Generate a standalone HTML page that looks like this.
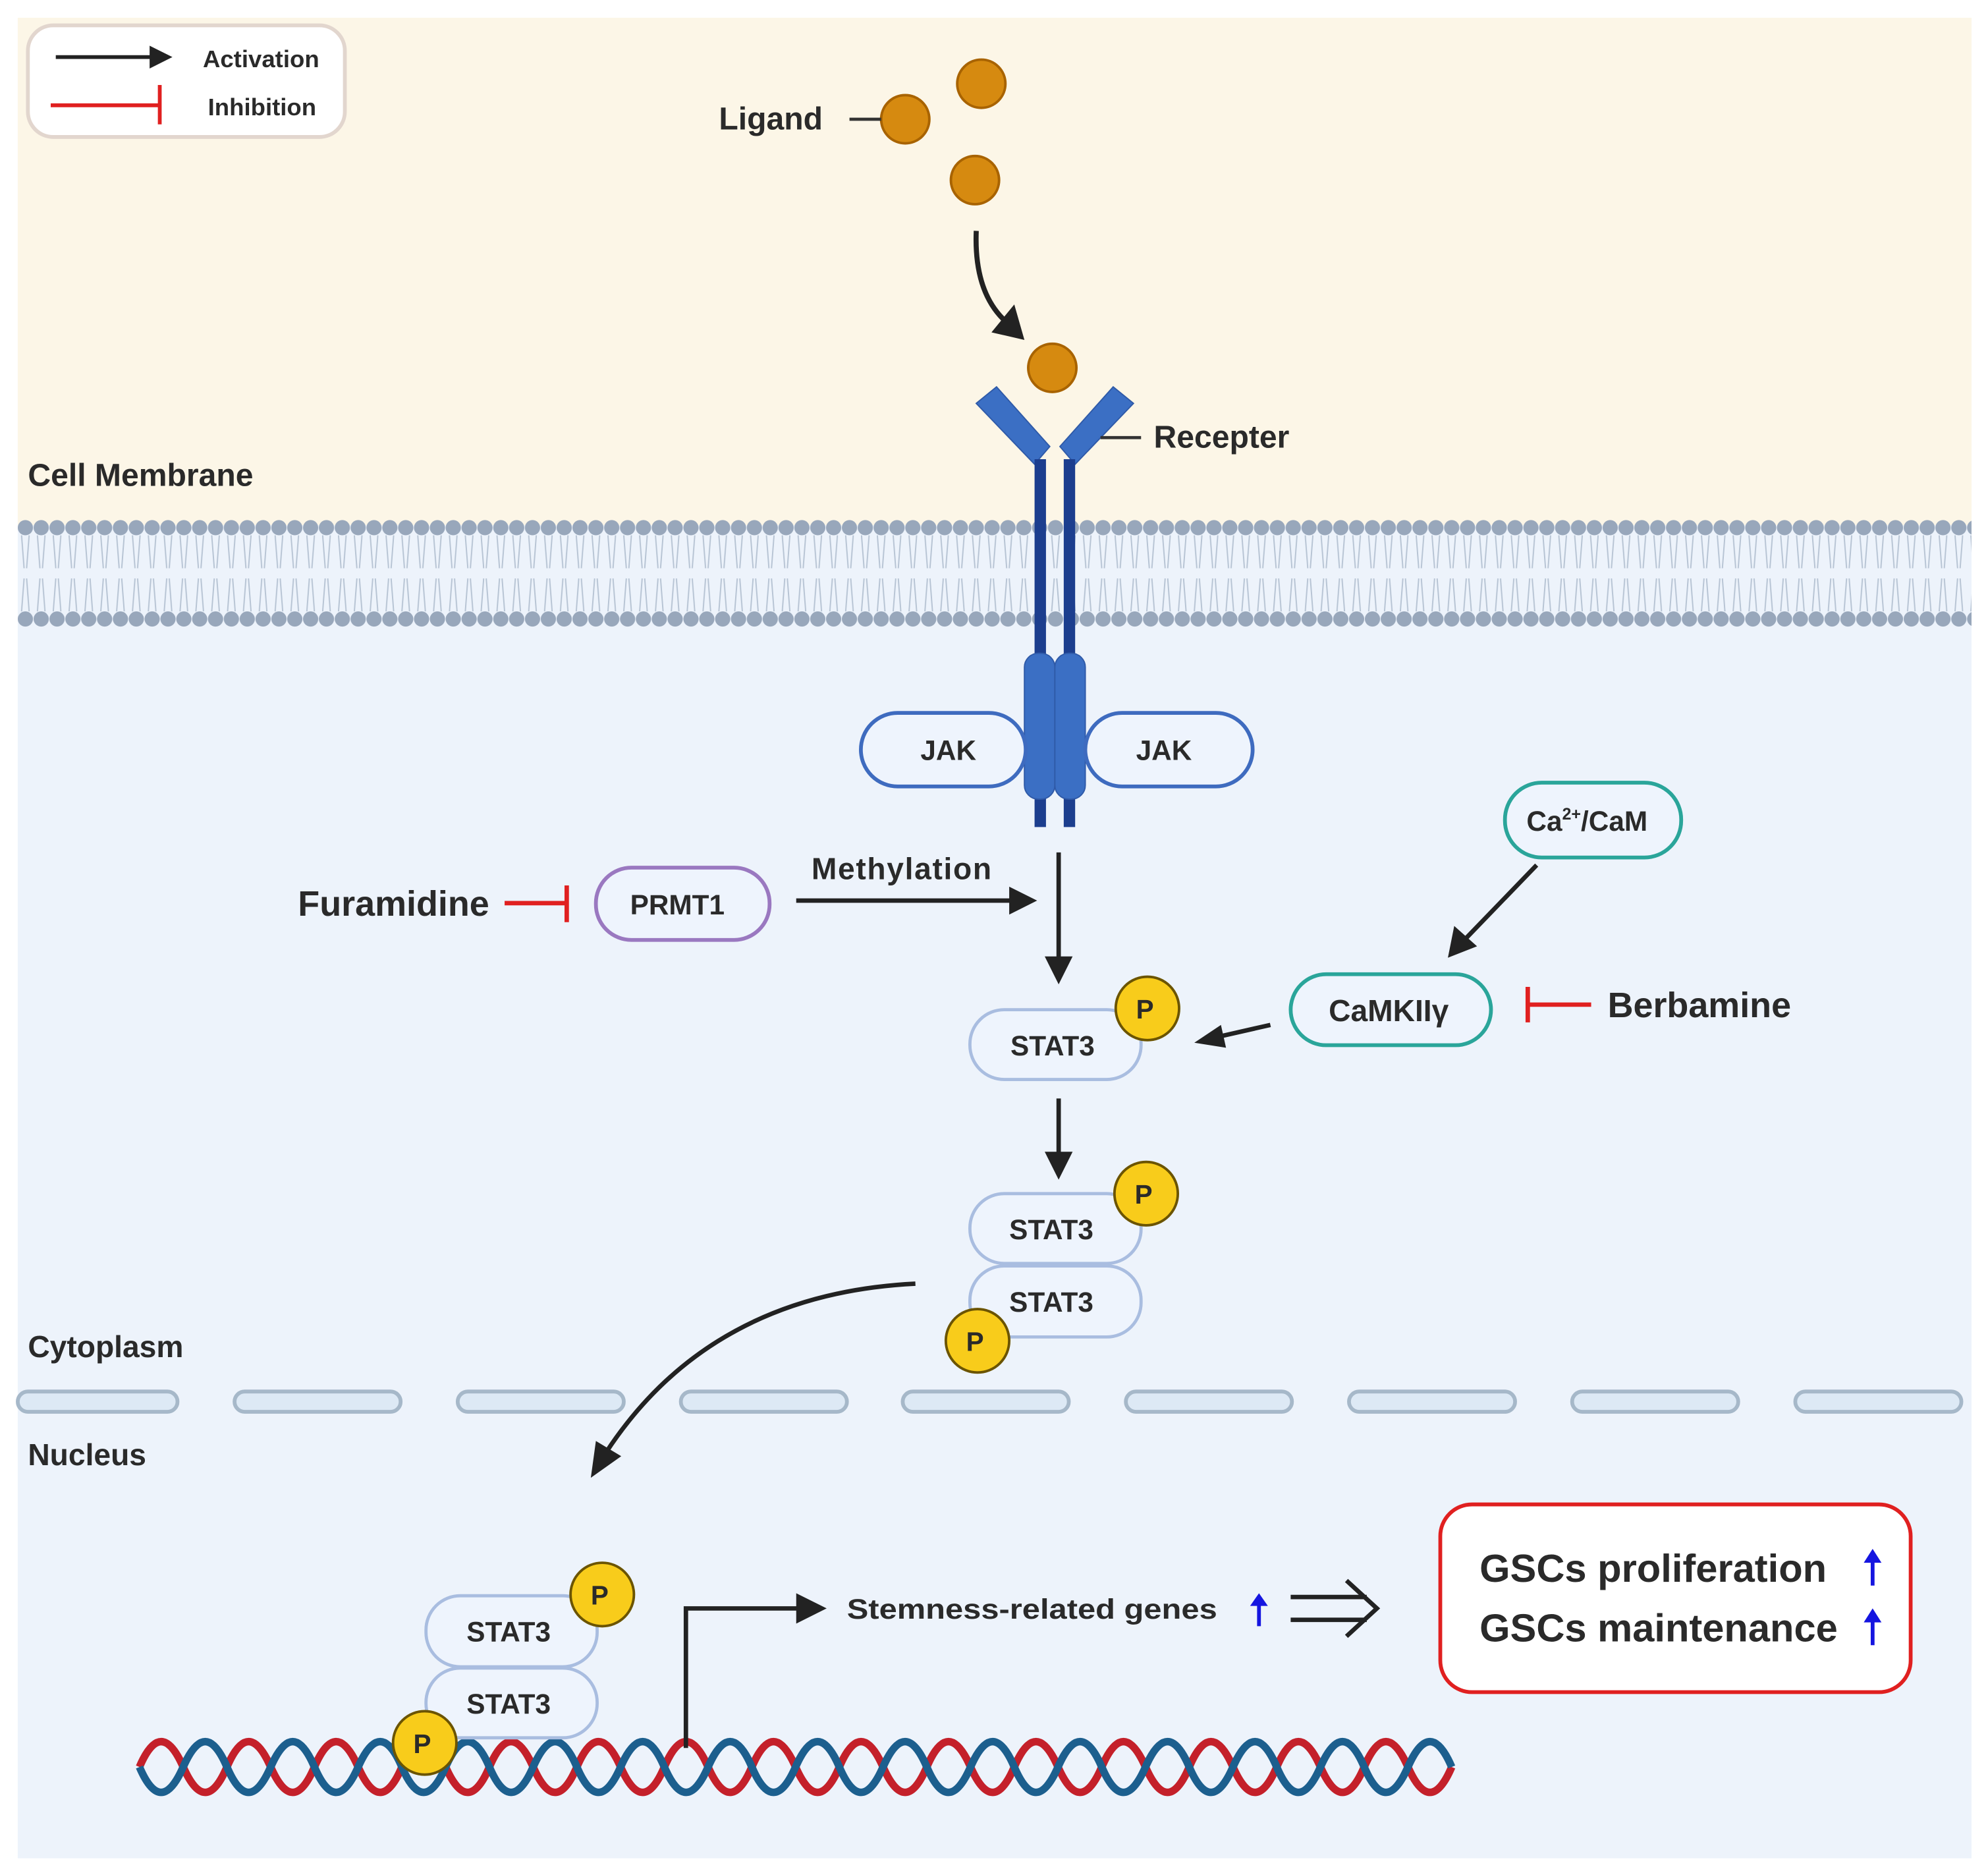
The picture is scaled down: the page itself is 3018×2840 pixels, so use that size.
<!DOCTYPE html>
<html><head><meta charset="utf-8"><style>
html,body{margin:0;padding:0;background:#fff}
svg{display:block}
text{font-family:"Liberation Sans",sans-serif;fill:#2a2a2a;font-weight:bold}
</style></head><body>
<svg width="3018" height="2840" viewBox="0 0 1568 1475" preserveAspectRatio="none" xmlns="http://www.w3.org/2000/svg">
<defs>
<pattern id="heads" x="14" y="0" width="12.5" height="1475" patternUnits="userSpaceOnUse">
<circle cx="6" cy="416" r="6" fill="#98a7bb"/>
<circle cx="6" cy="488" r="6" fill="#98a7bb"/>
<path d="M3 422 L5 448 M9 422 L7 448 M3 482 L5 456 M9 482 L7 456" stroke="#b6c3d3" stroke-width="1" fill="none"/>
</pattern>
</defs>
<rect x="14" y="14" width="1541" height="400" fill="#fcf6e7"/>
<rect x="14" y="414" width="1541" height="1051" fill="#edf3fb"/>
<rect x="14" y="405" width="1541" height="95" fill="url(#heads)"/>
<!-- legend -->
<rect x="22" y="20" width="250" height="88" rx="20" fill="#fff" stroke="#e2d6ce" stroke-width="3"/>
<line x1="44" y1="45" x2="122" y2="45" stroke="#222" stroke-width="3"/>
<polygon points="118,36 136,45 118,54" fill="#222"/>
<line x1="40" y1="83" x2="126" y2="83" stroke="#e02020" stroke-width="3"/>
<line x1="126" y1="67" x2="126" y2="98" stroke="#e02020" stroke-width="3"/>
<text x="160" y="53" font-size="19" font-weight="normal">Activation</text>
<text x="164" y="91" font-size="19" font-weight="normal">Inhibition</text>
<!-- ligands -->
<g fill="#d68a10" stroke="#a86300" stroke-width="2">
<circle cx="774" cy="66" r="19"/><circle cx="714" cy="94" r="19"/><circle cx="769" cy="142" r="19"/><circle cx="830" cy="290" r="19"/>
</g>
<text x="567" y="102" font-size="25">Ligand</text>
<line x1="670" y1="94" x2="695" y2="94" stroke="#333" stroke-width="2.5"/>
<path d="M770 182 Q768 232 795 255" stroke="#222" stroke-width="4" fill="none"/>
<polygon points="782,262 808,268 800,240" fill="#222"/>
<!-- receptor -->
<polygon points="770,318 786,305 828,352 816,366" fill="#3b6fc4" stroke="#2f5aa8" stroke-width="1"/>
<polygon points="894,318 878,305 836,352 848,366" fill="#3b6fc4" stroke="#2f5aa8" stroke-width="1"/>
<rect x="816" y="362" width="9" height="290" fill="#1c3e8e"/>
<rect x="839" y="362" width="9" height="290" fill="#1c3e8e"/>
<rect x="808" y="515" width="24" height="115" rx="11" fill="#3b6fc4" stroke="#2f5aa8"/>
<rect x="832" y="515" width="24" height="115" rx="11" fill="#3b6fc4" stroke="#2f5aa8"/>
<line x1="868" y1="345" x2="900" y2="345" stroke="#333" stroke-width="2.5"/>
<text x="910" y="353" font-size="25">Recepter</text>
<text x="22" y="383" font-size="25">Cell Membrane</text>
<!-- JAK -->
<rect x="679" y="562" width="130" height="58" rx="29" fill="#eef4fd" stroke="#3e6bbf" stroke-width="3"/>
<rect x="856" y="562" width="132" height="58" rx="29" fill="#eef4fd" stroke="#3e6bbf" stroke-width="3"/>
<text x="726" y="599" font-size="22">JAK</text>
<text x="896" y="599" font-size="22">JAK</text>
<!-- Ca/CaM -->
<rect x="1187" y="617" width="139" height="59" rx="29" fill="#eef4fd" stroke="#2aa59a" stroke-width="3"/>
<text x="1204" y="655" font-size="22">Ca<tspan font-size="13" dy="-9">2+</tspan><tspan dy="9">/CaM</tspan></text>
<rect x="1018" y="768" width="158" height="56" rx="28" fill="#eef4fd" stroke="#2aa59a" stroke-width="3"/>
<text x="1048" y="805" font-size="24">CaMKIIγ</text>
<line x1="1212" y1="682" x2="1155" y2="741" stroke="#222" stroke-width="3.5"/>
<polygon points="1142,755 1147,730 1165,746" fill="#222"/>
<line x1="1205" y1="792" x2="1255" y2="792" stroke="#e02020" stroke-width="3.5"/>
<line x1="1205" y1="778" x2="1205" y2="806" stroke="#e02020" stroke-width="3.5"/>
<text x="1268" y="802" font-size="28">Berbamine</text>
<line x1="1002" y1="808" x2="958" y2="818" stroke="#222" stroke-width="3.5"/>
<polygon points="942,822 963,808 967,826" fill="#222"/>
<!-- PRMT1 -->
<rect x="470" y="684" width="137" height="57" rx="28" fill="#eef4fd" stroke="#9a78c0" stroke-width="3"/>
<text x="497" y="721" font-size="22">PRMT1</text>
<text x="235" y="722" font-size="28">Furamidine</text>
<line x1="398" y1="712" x2="447" y2="712" stroke="#e02020" stroke-width="3.5"/>
<line x1="447" y1="698" x2="447" y2="727" stroke="#e02020" stroke-width="3.5"/>
<line x1="628" y1="710" x2="800" y2="710" stroke="#222" stroke-width="3.5"/>
<polygon points="796,699 818,710 796,721" fill="#222"/>
<text x="640" y="693" font-size="24" textLength="142">Methylation</text>
<line x1="835" y1="672" x2="835" y2="758" stroke="#222" stroke-width="3.5"/>
<polygon points="824,754 835,776 846,754" fill="#222"/>
<!-- STAT3 single -->
<rect x="765" y="796" width="135" height="55" rx="27" fill="#eef4fd" stroke="#a9bde0" stroke-width="2.5"/>
<text x="797" y="832" font-size="22">STAT3</text>
<g fill="#f8cc1b" stroke="#6b5400" stroke-width="2">
<circle cx="905" cy="795" r="25"/></g>
<text x="896" y="803" font-size="21" font-weight="normal">P</text>
<line x1="835" y1="866" x2="835" y2="912" stroke="#222" stroke-width="3.5"/>
<polygon points="824,908 835,930 846,908" fill="#222"/>
<!-- dimer -->
<rect x="765" y="941" width="135" height="55" rx="27" fill="#eef4fd" stroke="#a9bde0" stroke-width="2.5"/>
<rect x="765" y="998" width="135" height="56" rx="27" fill="#eef4fd" stroke="#a9bde0" stroke-width="2.5"/>
<text x="796" y="977" font-size="22">STAT3</text>
<text x="796" y="1034" font-size="22">STAT3</text>
<g fill="#f8cc1b" stroke="#6b5400" stroke-width="2">
<circle cx="904" cy="941" r="25"/><circle cx="771" cy="1057" r="25"/></g>
<text x="895" y="949" font-size="21" font-weight="normal">P</text>
<text x="762" y="1065" font-size="21" font-weight="normal">P</text>
<path d="M722 1012 Q560 1020 478 1145" stroke="#222" stroke-width="3.5" fill="none"/>
<polygon points="466,1165 470,1136 490,1148" fill="#222"/>
<text x="22" y="1070" font-size="24">Cytoplasm</text>
<!-- nuclear membrane -->
<g fill="#dde9f5" stroke="#a6b8c9" stroke-width="3">
<rect x="14" y="1097" width="126" height="16" rx="8"/>
<rect x="185" y="1097" width="131" height="16" rx="8"/>
<rect x="361" y="1097" width="131" height="16" rx="8"/>
<rect x="537" y="1097" width="131" height="16" rx="8"/>
<rect x="712" y="1097" width="131" height="16" rx="8"/>
<rect x="888" y="1097" width="131" height="16" rx="8"/>
<rect x="1064" y="1097" width="131" height="16" rx="8"/>
<rect x="1240" y="1097" width="131" height="16" rx="8"/>
<rect x="1416" y="1097" width="131" height="16" rx="8"/>
</g>
<text x="22" y="1155" font-size="24">Nucleus</text>
<!-- DNA -->
<path d="M110 1393 q17 -40 34.5 0 t34.5 0 t34.5 0 t34.5 0 t34.5 0 t34.5 0 t34.5 0 t34.5 0 t34.5 0 t34.5 0 t34.5 0 t34.5 0 t34.5 0 t34.5 0 t34.5 0 t34.5 0 t34.5 0 t34.5 0 t34.5 0 t34.5 0 t34.5 0 t34.5 0 t34.5 0 t34.5 0 t34.5 0 t34.5 0 t34.5 0 t34.5 0 t34.5 0 t34.5 0" stroke="#c4202a" stroke-width="6" fill="none"/>
<path d="M110 1393 q17 40 34.5 0 t34.5 0 t34.5 0 t34.5 0 t34.5 0 t34.5 0 t34.5 0 t34.5 0 t34.5 0 t34.5 0 t34.5 0 t34.5 0 t34.5 0 t34.5 0 t34.5 0 t34.5 0 t34.5 0 t34.5 0 t34.5 0 t34.5 0 t34.5 0 t34.5 0 t34.5 0 t34.5 0 t34.5 0 t34.5 0 t34.5 0 t34.5 0 t34.5 0 t34.5 0" stroke="#1c5f8e" stroke-width="6" fill="none"/>
<!-- nuclear STAT3 -->
<rect x="336" y="1258" width="135" height="56" rx="27" fill="#eef4fd" stroke="#a9bde0" stroke-width="2.5"/>
<rect x="336" y="1315" width="135" height="55" rx="27" fill="#eef4fd" stroke="#a9bde0" stroke-width="2.5"/>
<text x="368" y="1294" font-size="22">STAT3</text>
<text x="368" y="1351" font-size="22">STAT3</text>
<g fill="#f8cc1b" stroke="#6b5400" stroke-width="2">
<circle cx="475" cy="1257" r="25"/><circle cx="335" cy="1374" r="25"/></g>
<text x="466" y="1265" font-size="21" font-weight="normal">P</text>
<text x="326" y="1382" font-size="21" font-weight="normal">P</text>
<path d="M541 1378 L541 1268 L632 1268" stroke="#222" stroke-width="3.5" fill="none"/>
<polygon points="628,1256 652,1268 628,1280" fill="#222"/>
<text x="668" y="1276" font-size="22" textLength="292" lengthAdjust="spacingAndGlyphs">Stemness-related genes</text>
<line x1="993" y1="1282" x2="993" y2="1264" stroke="#1515e0" stroke-width="3"/>
<polygon points="986,1266 993,1256 1000,1266" fill="#1515e0"/>
<path d="M1018 1259 L1078 1259 M1018 1277 L1078 1277 M1062 1246 L1086 1268 L1062 1290" stroke="#222" stroke-width="3.5" fill="none"/>
<!-- result box -->
<rect x="1136" y="1186" width="371" height="148" rx="25" fill="#fff" stroke="#e02020" stroke-width="3"/>
<text x="1167" y="1247" font-size="31">GSCs proliferation</text>
<text x="1167" y="1294" font-size="31">GSCs maintenance</text>
<line x1="1477" y1="1250" x2="1477" y2="1230" stroke="#1515e0" stroke-width="3"/>
<polygon points="1470,1232 1477,1221 1484,1232" fill="#1515e0"/>
<line x1="1477" y1="1297" x2="1477" y2="1277" stroke="#1515e0" stroke-width="3"/>
<polygon points="1470,1279 1477,1268 1484,1279" fill="#1515e0"/>
</svg>
</body></html>
